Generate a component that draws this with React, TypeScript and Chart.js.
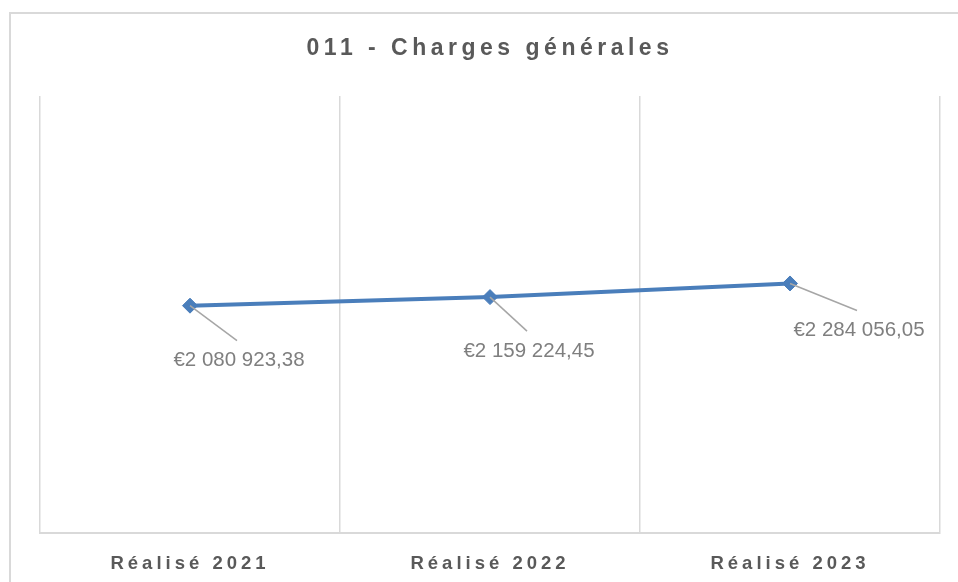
import React, { useEffect, useRef } from "react";
import { Chart, registerables } from "chart.js";

Chart.register(...registerables);

const TITLE = "011 - Charges générales";
const categories = ["Réalisé 2021", "Réalisé 2022", "Réalisé 2023"];
const values = [2080923.38, 2159224.45, 2284056.05];
const yMin = 0;
const yMax = 4000000;

const FONT = "'Liberation Sans', Arial, sans-serif";

function formatEuro(v: number): string {
  const [int, dec] = v.toFixed(2).split(".");
  const grouped = int.replace(/\B(?=(\d{3})+(?!\d))/g, " ");
  return "€" + grouped + "," + dec;
}

const framePlugin = {
  id: "frame",
  beforeDraw(chart: any) {
    const ctx = chart.ctx;
    ctx.save();
    ctx.fillStyle = "#ffffff";
    ctx.fillRect(0, 0, chart.width, chart.height);
    ctx.strokeStyle = "#d9d9d9";
    ctx.lineWidth = 2;
    ctx.strokeRect(10, 13, 1000, 1000);
    ctx.restore();
    // spacing used by the title
    ctx.letterSpacing = "4.5px";
  },
};

const labelPlugin = {
  id: "valueLabels",
  afterDatasetsDraw(chart: any, _args: any, opts: any) {
    const ctx = chart.ctx;
    const meta = chart.getDatasetMeta(0);
    const offsets: number[][] = opts.offsets || [];
    ctx.save();
    ctx.letterSpacing = "0px";
    meta.data.forEach((pt: any, i: number) => {
      const [dx, dy] = offsets[i] || [40, 50];
      const cx = pt.x + dx;
      const cy = pt.y + dy;
      ctx.beginPath();
      ctx.strokeStyle = "#a6a6a6";
      ctx.lineWidth = 1.5;
      ctx.moveTo(pt.x, pt.y);
      ctx.lineTo(cx - 2, cy - 20);
      ctx.stroke();
      ctx.font = `20.5px ${FONT}`;
      ctx.fillStyle = "#7f7f7f";
      ctx.textAlign = "center";
      ctx.textBaseline = "middle";
      ctx.fillText(formatEuro(chart.data.datasets[0].data[i]), cx, cy);
    });
    ctx.restore();
    // spacing used by the category labels (drawn after datasets)
    ctx.letterSpacing = "4px";
  },
};

export default function App() {
  const ref = useRef<HTMLCanvasElement | null>(null);

  useEffect(() => {
    if (!ref.current) return;
    const chart = new Chart(ref.current, {
      type: "line",
      data: {
        labels: categories,
        datasets: [
          {
            data: values,
            borderColor: "#4a7ebb",
            backgroundColor: "#4a7ebb",
            borderWidth: 4,
            tension: 0,
            pointStyle: "rectRot",
            pointRadius: 7.5,
            pointBorderWidth: 1,
            pointBackgroundColor: "#4a7ebb",
            pointBorderColor: "#4a7ebb",
          },
        ],
      },
      options: {
        responsive: false,
        animation: false,
        events: [],
        layout: { padding: { left: 40, right: 18, top: 0, bottom: 0 } },
        plugins: {
          legend: { display: false },
          tooltip: { enabled: false },
          title: {
            display: true,
            text: TITLE,
            color: "#595959",
            font: { family: FONT, size: 23, weight: "bold", lineHeight: 1.2 },
            padding: { top: 35, bottom: 33.4 },
          },
          valueLabels: { offsets: [[49, 55], [39, 54], [69, 47]] },
        } as any,
        scales: {
          x: {
            offset: true,
            grid: { offset: true, color: "#d9d9d9", lineWidth: 1.5, drawTicks: false },
            border: { display: true, color: "#d9d9d9", width: 2 },
            ticks: {
              z: 1,
              color: "#595959",
              font: { family: FONT, size: 18.5, weight: "bold", lineHeight: 1.2 },
              padding: 20,
              maxRotation: 0,
              autoSkip: false,
            },
            afterFit: (scale: any) => {
              scale.height = 49;
            },
          },
          y: {
            display: false,
            min: yMin,
            max: yMax,
          },
        },
      },
      plugins: [framePlugin, labelPlugin],
    });
    return () => chart.destroy();
  }, []);

  return (
    <div style={{ position: "fixed", left: 0, top: 0, width: 958, height: 582 }}>
      <canvas ref={ref} width={958} height={582} style={{ display: "block" }} />
    </div>
  );
}
